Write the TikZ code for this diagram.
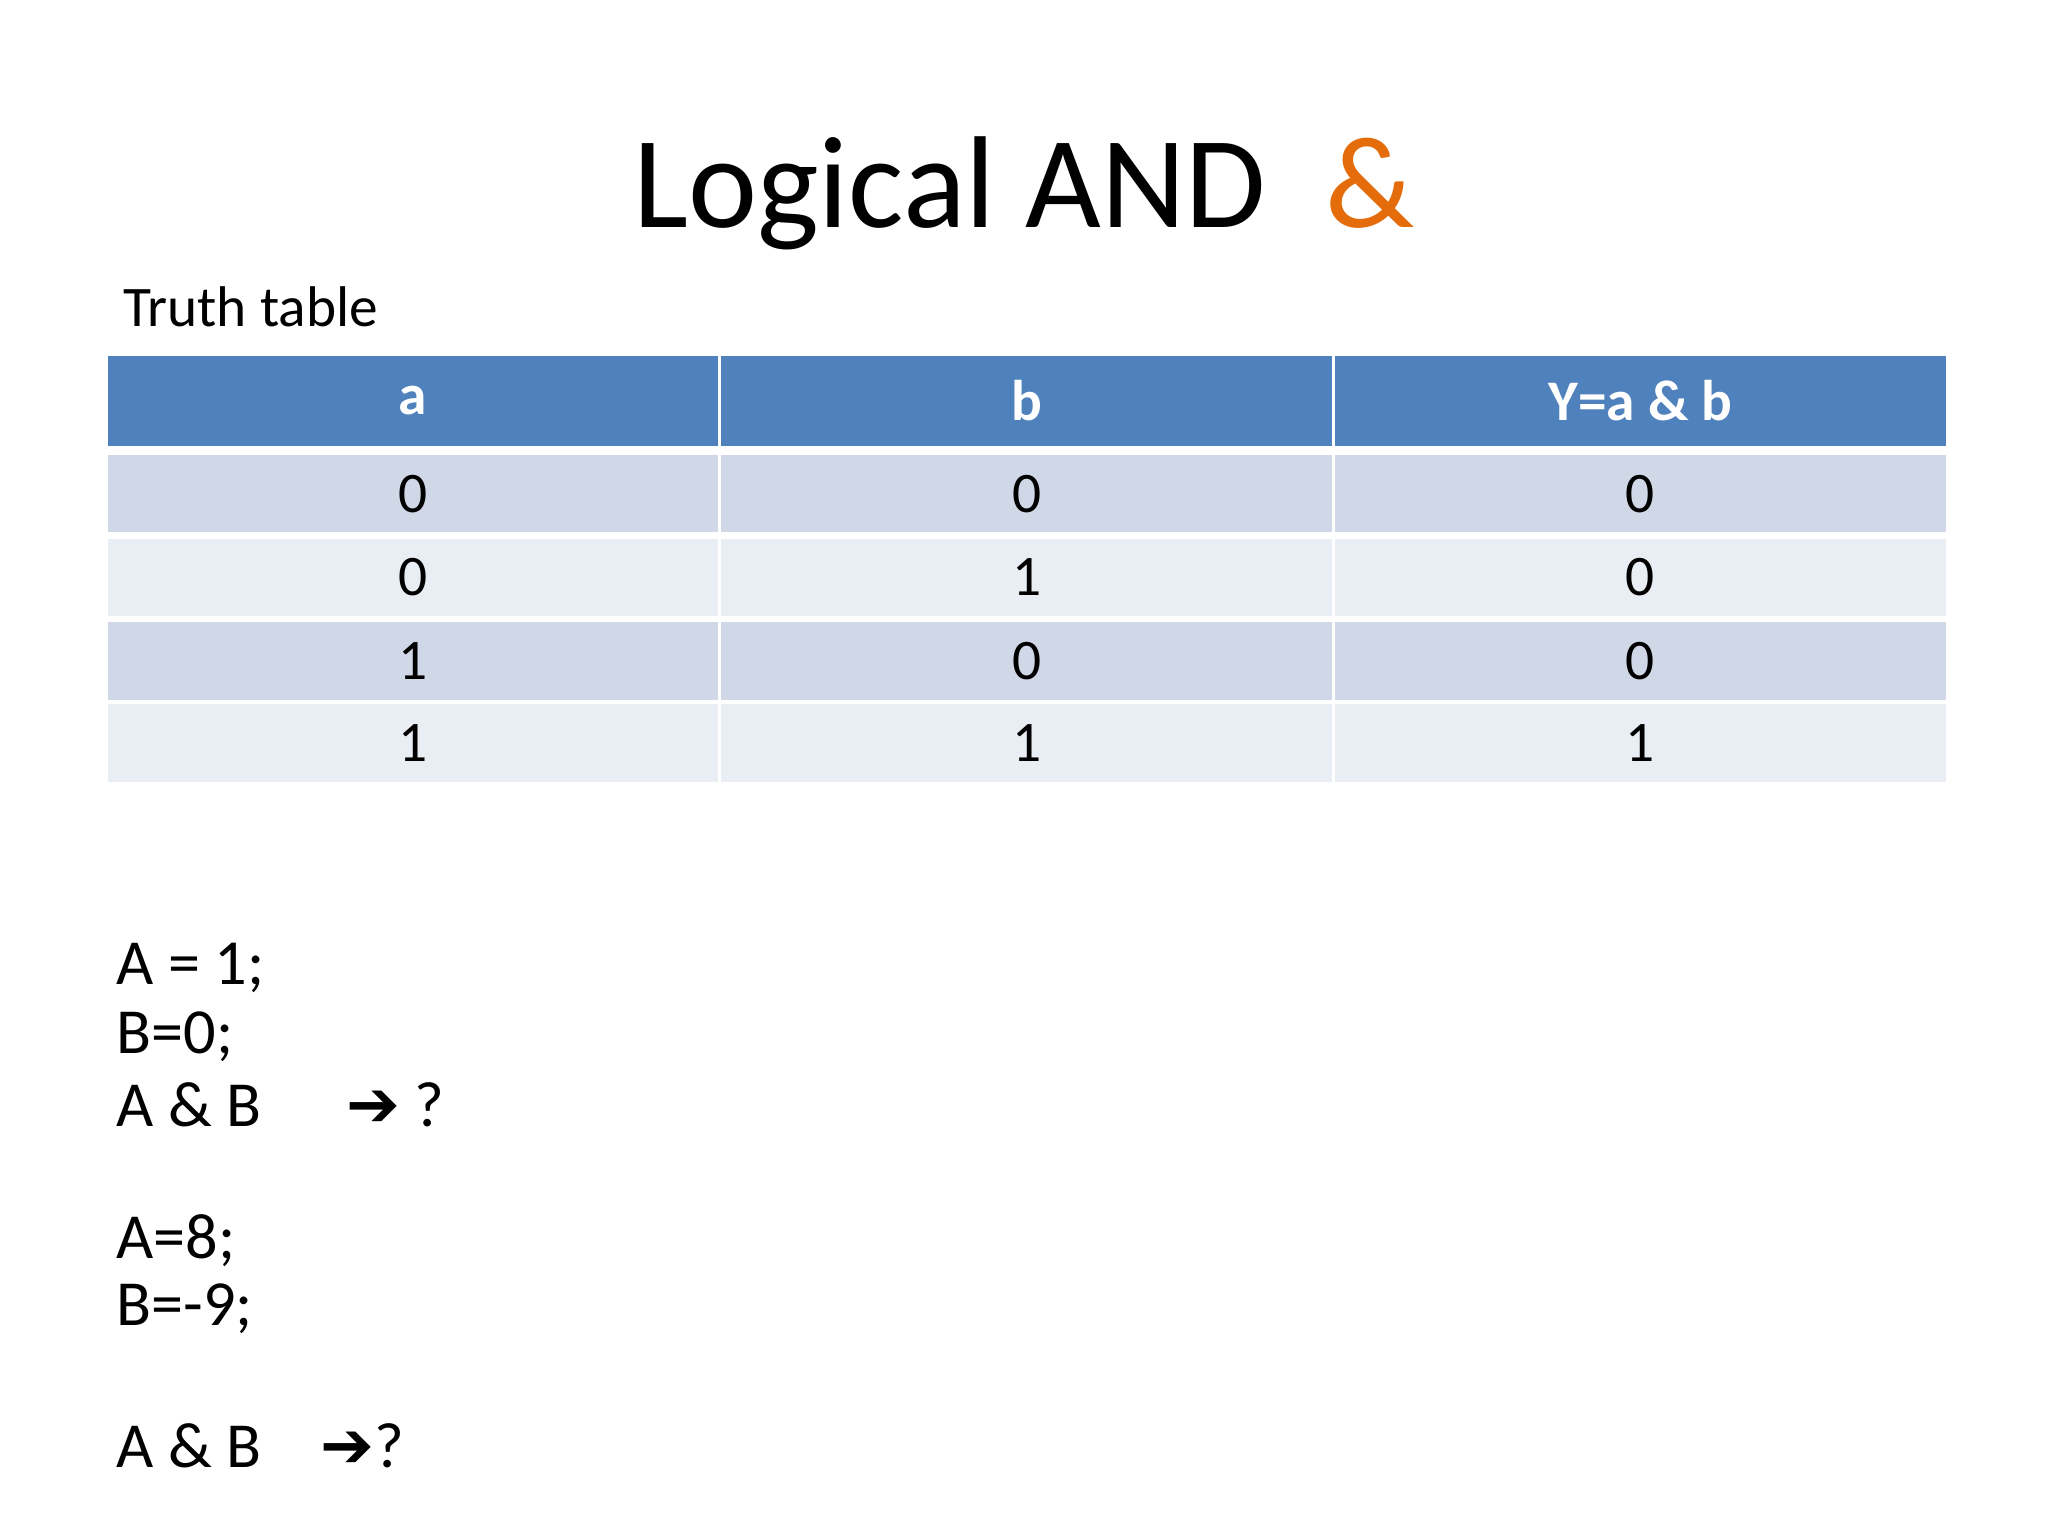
\documentclass[tikz,border=0pt]{standalone}
\usepackage{fontspec}
\setmainfont{Carlito}
\newfontfamily\symf{DejaVu Sans}
\definecolor{hdr}{HTML}{4F81BD}
\definecolor{rowa}{HTML}{D0D8E8}
\definecolor{rowb}{HTML}{E9EDF4}
\definecolor{amp}{HTML}{E46C0A}
\begin{document}
\begin{tikzpicture}[x=0.02cm,y=-0.02cm,
  cell/.style={draw=white,line width=1.5pt,minimum width=9.4cm,minimum height=1.24cm,inner sep=0pt,font=\fontsize{25}{30}\selectfont},
  head/.style={cell,fill=hdr,text=white,minimum height=1.44cm,font=\fontsize{25}{30}\selectfont\bfseries},
  body/.style={anchor=west,font=\fontsize{28}{34}\selectfont,inner sep=0pt}]
\useasboundingbox (0,0) rectangle (1568,1176);
\fill[white] (0,0) rectangle (1568,1176);
\node (title) at (784,148) {\fontsize{57}{68}\selectfont Logical AND\ \ \textcolor{amp}{\&}};
\node[anchor=west,inner sep=0pt,font=\fontsize{25}{30}\selectfont] (tt) at (94,235) {Truth table};
\foreach \t [count=\i] in {a,b,Y=a \& b}{
  \node[head] (h\i) at (81+470*\i-235,307) {\t};}
\foreach \r/\y/\c/\u/\v/\w in {1/378/rowa/0/0/0, 2/442/rowb/0/1/0, 3/506/rowa/1/0/0, 4/569/rowb/1/1/1}{
  \node[cell,fill=\c] (c\r a) at (316,\y) {\u};
  \node[cell,fill=\c] (c\r b) at (786,\y) {\v};
  \node[cell,fill=\c] (c\r c) at (1256,\y) {\w};}
\node[body] (l1) at (89,741) {A = 1;};
\node[body] (l2) at (89,794) {B=0;};
\node[body] (l3) at (89,846) {A \& B\hspace{1.3cm}{\symf\bfseries ➔} ?};
\node[body] (l4) at (89,950) {A=8;};
\node[body] (l5) at (89,1002) {B=-9;};
\node[body] (l6) at (89,1107) {A \& B\hspace{0.9cm}{\symf\bfseries ➔}?};
\end{tikzpicture}
\end{document}
